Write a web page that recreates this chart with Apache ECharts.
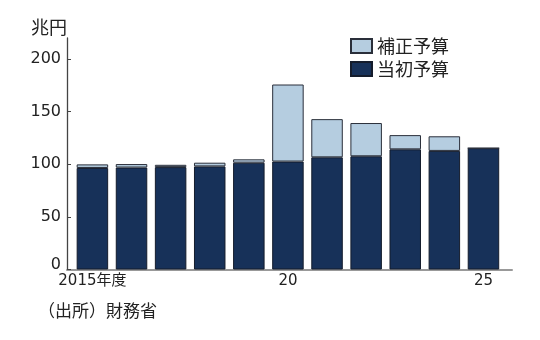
<!DOCTYPE html>
<html>
<head>
<meta charset="utf-8">
<script src="https://cdn.jsdelivr.net/npm/echarts@6/dist/echarts.min.js"></script>
<style>html,body{margin:0;padding:0;background:#fff}#c{width:540px;height:340px}</style>
</head>
<body>
<div id="c"></div>
<script>
var years = [2015, 2016, 2017, 2018, 2019, 2020, 2021, 2022, 2023, 2024, 2025];
var initialBudget = [96.5, 96.9, 97.3, 98.0, 101.5, 102.6, 106.6, 107.6, 114.2, 112.7, 115.3];
var supplementaryBudget = [3.4, 3.3, 2.2, 3.5, 3.2, 73.2, 36.3, 31.6, 13.5, 13.9, 0];
var xTickValues = [2015, 2020, 2025];
var xTickLabels = ['2015年度', '20', '25'];
var yTicks = [0, 50, 100, 150, 200];
var seriesNames = ['補正予算', '当初予算'];

var chart = echarts.init(document.getElementById('c'));
var numFont = 'DejaVu Sans, Noto Sans CJK JP, sans-serif';
var jpFont = 'Noto Sans CJK JP, sans-serif';

// value first, year second, so the value dimension is the stacked one
function pairs(vals) { return years.map(function (y, i) { return [vals[i], y]; }); }

chart.setOption({
  backgroundColor: '#ffffff',
  animation: false,
  title: {
    text: '（出所）財務省',
    left: 33, top: 297,
    textStyle: { fontFamily: jpFont, fontSize: 17, fontWeight: 'normal', color: '#222' }
  },
  legend: {
    orient: 'vertical',
    left: 345, top: 32,
    icon: 'rect',
    itemWidth: 21, itemHeight: 14, itemGap: 5,
    textStyle: { fontFamily: jpFont, fontSize: 18, color: '#222', padding: [0, 0, 0, 0] },
    data: [seriesNames[0], seriesNames[1]]
  },
  grid: { left: 67, right: 28, top: 38, bottom: 70.5, containLabel: false },
  xAxis: {
    type: 'value',
    min: 2014.35, max: 2025.73,
    splitLine: { show: false },
    axisTick: { show: false },
    axisLine: { show: true, lineStyle: { color: '#999', width: 2 } },
    axisLabel: {
      customValues: xTickValues,
      formatter: function (v) { var i = xTickValues.indexOf(v); return i >= 0 ? xTickLabels[i] : ''; },
      fontFamily: numFont, fontSize: 15, color: '#222', margin: 4
    }
  },
  yAxis: {
    type: 'value',
    min: 0, max: 220,
    name: '兆円',
    nameLocation: 'end',
    nameGap: 2,
    nameTextStyle: { fontFamily: jpFont, fontSize: 18, color: '#222', align: 'right', padding: [0, 0, 0, 0] },
    splitLine: { show: false },
    axisLine: { show: true, lineStyle: { color: '#444', width: 1.3 } },
    axisTick: { show: true, inside: true, length: 4, customValues: yTicks, lineStyle: { color: '#444' } },
    axisLabel: {
      customValues: yTicks,
      fontFamily: numFont, fontSize: 16, color: '#222', margin: 6,
      formatter: function (v) { return v === 0 ? '{z|0}' : String(v); },
      rich: { z: { fontFamily: numFont, fontSize: 16, color: '#222', padding: [0, 0, 10, 0] } }
    }
  },
  series: [
    {
      name: seriesNames[1], type: 'bar', stack: 'total', barWidth: 31.5,
      encode: { x: 1, y: 0 },
      data: pairs(initialBudget),
      itemStyle: { color: '#173159', borderColor: '#141c2c', borderWidth: 1 }
    },
    {
      name: seriesNames[0], type: 'bar', stack: 'total', barWidth: 31.5,
      encode: { x: 1, y: 0 },
      data: pairs(supplementaryBudget),
      itemStyle: { color: '#b5cde0', borderColor: '#2a2f3a', borderWidth: 1 }
    }
  ]
});
</script>
</body>
</html>
